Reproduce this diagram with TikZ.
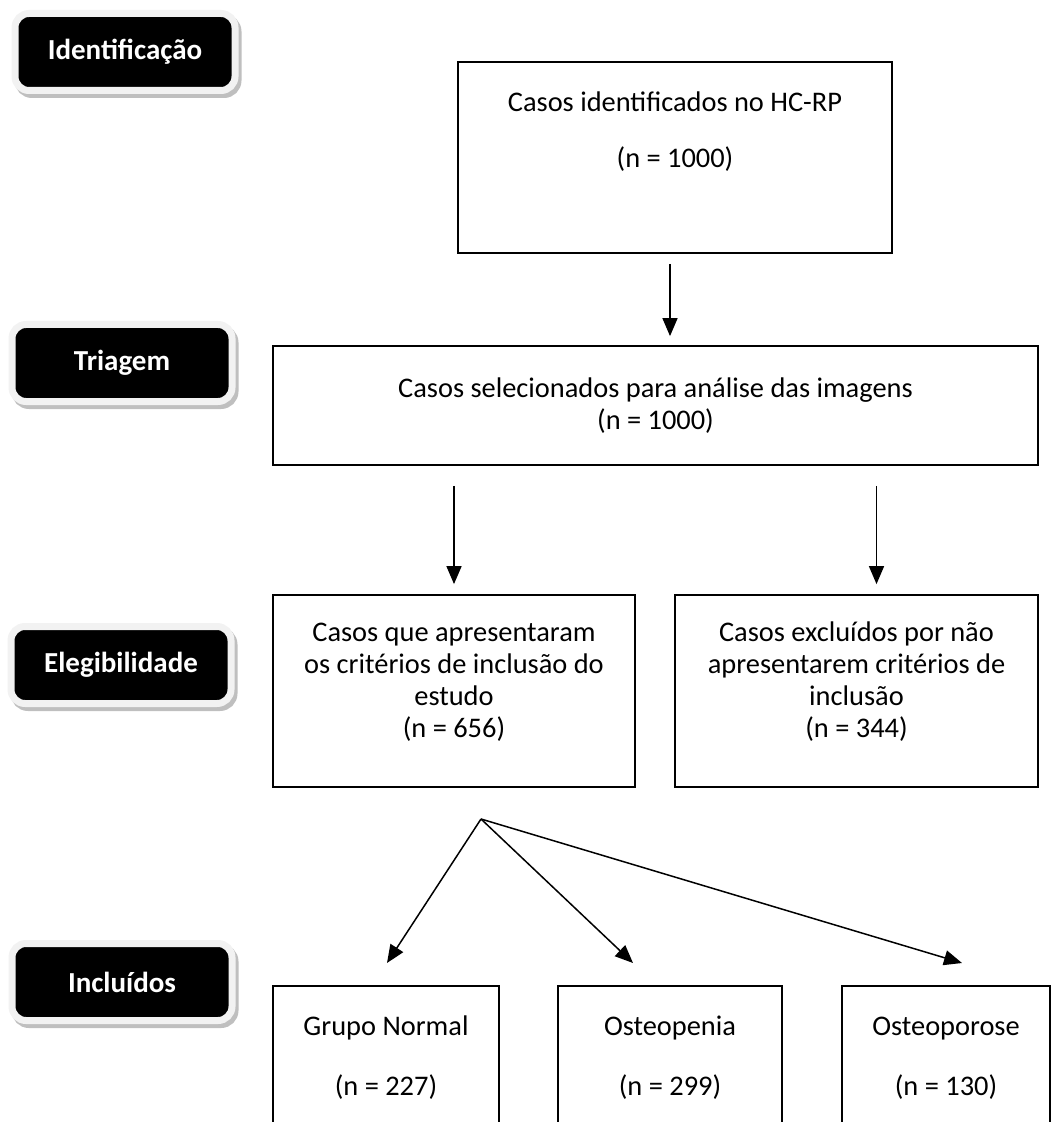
\documentclass[tikz,border=0pt]{standalone}
\usepackage{fontspec}
\setmainfont{Carlito}
\usetikzlibrary{arrows.meta}
\definecolor{framegray}{HTML}{F2F2F2}
\definecolor{shadowgray}{HTML}{BFBFBF}
\tikzset{
  stage/.style={rounded corners=7pt, fill=black, text=white, font=\fontsize{14.5}{16}\selectfont\bfseries,
    draw=framegray, line width=3.5pt, minimum width=110pt, minimum height=38.5pt, inner sep=0pt,
    preaction={draw=shadowgray, line width=3.5pt, transform canvas={xshift=1.5pt, yshift=-2pt}}},
  flowbox/.style={draw, line width=0.9pt, align=center, inner sep=0pt},
  arr/.style={-{Triangle[length=9pt, width=7.5pt]}, line width=0.75pt}
}
\begin{document}
\begin{tikzpicture}[x=0.5pt, y=-0.5pt, font=\fontsize{14.2}{16}\selectfont]
  \clip (0,0) rectangle (1059,1122);
  % stage labels on the left
  \node[stage] (stIdent) at (125,52) {Identificação};
  \node[stage] (stTriagem) at (122,363) {Triagem};
  \node[stage] (stEleg) at (121,665) {Elegibilidade};
  \node[stage] (stIncl) at (122,982) {Incluídos};
  % flow boxes
  \node[flowbox, minimum width=217pt, minimum height=95.5pt] (ident) at (675,157.5)
    {Casos identificados no HC-RP\\[12pt](n = 1000)\\[12pt]\mbox{}};
  \node[flowbox, minimum width=382.5pt, minimum height=59.5pt] (sel) at (655.5,405.5)
    {Casos selecionados para análise das imagens\\(n = 1000)};
  \node[flowbox, minimum width=181pt, minimum height=96pt] (incl) at (454,691)
    {Casos que apresentaram\\os critérios de inclusão do\\estudo\\(n = 656)\\[-5pt]\mbox{}};
  \node[flowbox, minimum width=181.5pt, minimum height=96pt] (excl) at (856.5,691)
    {Casos excluídos por não\\apresentarem critérios de\\inclusão\\(n = 344)\\[-5pt]\mbox{}};
  \node[flowbox, minimum width=113pt, minimum height=100pt] (normal) at (386,1086)
    {Grupo Normal\\[14pt](n = 227)\\[14pt]\mbox{}};
  \node[flowbox, minimum width=112pt, minimum height=100pt] (penia) at (670,1086)
    {Osteopenia\\[14pt](n = 299)\\[14pt]\mbox{}};
  \node[flowbox, minimum width=104pt, minimum height=100pt] (porose) at (946,1086)
    {Osteoporose\\[14pt](n = 130)\\[14pt]\mbox{}};
  % connectors
  \draw[arr, shorten <=5pt, shorten >=4.5pt] ([xshift=-2.5pt]ident.south) -- ([xshift=-2.5pt]ident.south |- sel.north);
  \draw[arr, shorten <=10pt, shorten >=5pt] (sel.south -| incl.north) -- (incl.north);
  \draw[arr, shorten <=10pt, shorten >=5pt] ([xshift=10pt]sel.south -| excl.north) -- ([xshift=10pt]excl.north);
  \coordinate (fan) at (481,819);
  \coordinate (tipNormal) at (387,963);
  \coordinate (tipPenia) at (633,963);
  \coordinate (tipPorose) at (962,963);
  \draw[arr] (fan) -- (tipNormal);
  \draw[arr] (fan) -- (tipPenia);
  \draw[arr] (fan) -- (tipPorose);
\end{tikzpicture}
\end{document}
